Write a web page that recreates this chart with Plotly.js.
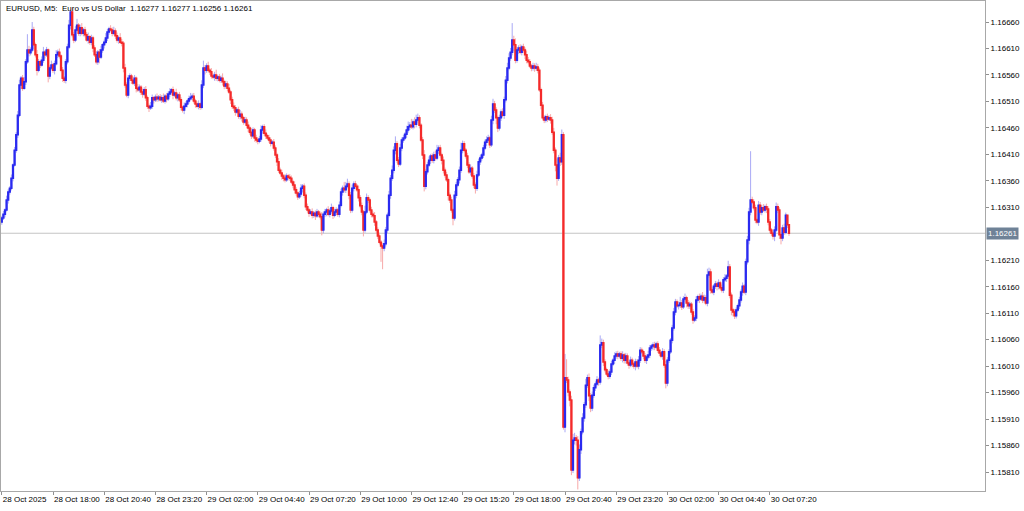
<!DOCTYPE html>
<html>
<head>
<meta charset="utf-8">
<script src="https://cdn.plot.ly/plotly-3.0.1.min.js"></script>
<style>html,body{margin:0;padding:0;background:#fff;}#chart{width:1024px;height:511px;}</style>
</head>
<body>
<div id="chart"></div>
<script>
// EURUSD M5, prices in 1e-5 units above 1.00000 (16290 -> 1.16290)
const firstOpen = 16282;
const closes = [16290,16297,16305,16324,16339,16346,16365,16390,16418,16447,
16484,16541,16554,16535,16547,16585,16607,16602,16607,16645,
16617,16598,16569,16585,16579,16588,16603,16598,16607,16558,
16573,16579,16569,16581,16598,16603,16596,16569,16554,16550,
16585,16613,16654,16679,16636,16626,16645,16654,16639,16649,
16639,16645,16636,16626,16632,16622,16630,16611,16598,16585,
16603,16594,16607,16617,16622,16630,16641,16647,16645,16639,
16643,16634,16626,16630,16622,16620,16573,16541,16522,16554,
16558,16550,16545,16554,16535,16532,16537,16528,16524,16532,
16517,16501,16498,16501,16517,16513,16518,16515,16518,16513,
16517,16511,16520,16515,16524,16528,16532,16522,16526,16517,
16522,16513,16499,16494,16501,16505,16511,16515,16518,16520,
16511,16505,16501,16505,16499,16541,16573,16569,16577,16569,
16566,16558,16556,16560,16554,16556,16550,16554,16547,16539,
16543,16535,16528,16513,16501,16498,16490,16494,16482,16486,
16479,16471,16475,16465,16460,16452,16445,16456,16441,16437,
16435,16439,16456,16462,16450,16445,16441,16437,16431,16433,
16422,16409,16396,16380,16375,16369,16365,16362,16369,16367,
16365,16358,16352,16343,16337,16330,16335,16346,16350,16333,
16311,16305,16299,16301,16295,16299,16294,16301,16297,16292,
16267,16297,16301,16305,16297,16303,16309,16295,16301,16305,
16297,16314,16339,16346,16343,16350,16354,16333,16305,16346,
16354,16350,16343,16328,16313,16301,16267,16301,16328,16324,
16305,16297,16294,16282,16267,16256,16244,16237,16233,16241,
16267,16295,16333,16365,16380,16418,16430,16399,16392,16422,
16437,16441,16448,16456,16462,16465,16462,16471,16467,16475,
16479,16465,16437,16409,16350,16377,16390,16399,16407,16399,
16409,16403,16418,16422,16409,16399,16380,16371,16362,16333,
16324,16305,16290,16333,16352,16362,16380,16418,16430,16418,
16407,16390,16377,16384,16369,16352,16346,16371,16396,16403,
16409,16422,16433,16437,16441,16428,16475,16505,16494,16479,
16460,16479,16490,16484,16513,16550,16573,16592,16603,16626,
16617,16588,16607,16611,16603,16613,16607,16598,16588,16585,
16577,16573,16577,16573,16575,16569,16532,16503,16479,16475,
16481,16477,16479,16475,16452,16418,16390,16365,16403,16396,
16447,15895,15988,15984,15961,15946,15814,15870,15874,15870,
15799,15852,15886,15912,15937,15974,15988,15954,15931,15955,
15969,15976,15984,15980,16050,16054,16018,16003,15995,15991,
15999,16014,16021,16029,16033,16029,16033,16025,16031,16021,
16029,16016,16012,16021,16014,16010,16018,16010,16021,16040,
16037,16029,16021,16027,16031,16044,16048,16050,16046,16052,
16040,16035,16029,16037,16012,15978,16021,16037,16059,16082,
16112,16131,16124,16125,16129,16122,16137,16139,16129,16124,
16127,16112,16097,16101,16135,16141,16137,16142,16135,16139,
16129,16182,16188,16154,16150,16161,16165,16161,16167,16158,
16154,16173,16176,16180,16197,16144,16116,16112,16105,16116,
16124,16135,16150,16161,16150,16207,16248,16301,16324,16320,
16309,16286,16282,16314,16301,16309,16305,16311,16307,16282,
16267,16261,16256,16267,16311,16305,16258,16252,16271,16263,
16295,16277,16261];
// upper wick length above max(open,close), in 1e-5
const upperWick = [4,6,3,8,5,4,7,3,6,5,
8,10,4,6,9,5,30,8,5,15,
6,4,9,5,3,7,10,4,6,3,
5,8,4,6,9,5,7,3,6,4,
5,6,10,4,8,5,7,12,4,6,
9,4,6,5,8,3,6,4,5,7,
4,6,8,3,5,9,6,4,7,5,
8,5,6,4,9,6,4,8,5,6,
5,4,7,6,3,8,5,4,6,5,
7,4,5,8,6,3,5,7,4,6,
5,8,4,6,5,7,3,6,4,8,
4,6,5,3,7,5,4,6,8,5,
6,4,5,7,3,9,14,6,5,8,
4,7,5,6,10,4,6,5,9,4,
6,5,8,4,6,7,5,4,6,8,
5,4,6,5,7,4,8,5,4,6,
5,6,9,4,5,7,4,6,5,4,
6,5,4,7,5,6,4,8,5,4,
6,5,4,7,5,3,6,8,4,5,
5,6,4,5,7,4,5,6,4,5,
9,5,6,4,7,5,8,4,6,5,
4,7,6,5,12,8,10,5,6,7,
5,6,4,8,5,6,4,12,8,5,
4,6,5,7,4,5,6,4,5,8,
6,5,8,6,9,7,14,5,6,8,
5,6,4,8,10,6,12,5,9,10,
8,5,4,6,9,5,6,7,4,5,
6,8,10,5,6,4,7,5,6,4,
5,6,4,8,6,5,7,14,6,5,
4,6,5,7,4,6,5,8,6,5,
4,6,5,7,6,4,8,10,6,5,
4,6,5,7,6,8,10,9,8,32,
8,12,6,5,7,4,6,5,8,6,
5,4,6,5,8,6,5,4,6,5,
4,6,5,7,6,8,5,12,6,10,
10,5,45,35,6,5,8,12,10,6,
8,10,6,9,5,12,6,8,5,7,
6,5,7,4,18,8,6,5,4,7,
5,6,4,7,5,6,4,5,7,4,
6,5,4,7,5,4,6,5,8,6,
5,4,6,5,8,6,4,5,6,4,
5,6,4,7,5,8,6,5,4,6,
8,6,5,7,12,6,5,8,4,6,
5,4,6,5,7,4,6,5,8,6,
5,12,8,6,5,4,6,5,7,4,
6,5,8,4,12,6,5,4,6,5,
4,6,5,7,4,6,8,8,92,6,
5,6,4,8,6,5,7,4,6,5,
6,4,5,7,8,6,5,4,6,8,
5,0,0];
// lower wick length below min(open,close), in 1e-5
const lowerWick = [5,4,6,3,7,5,4,6,3,5,
6,4,8,5,3,6,4,7,5,4,
8,5,10,4,6,3,5,7,4,12,
6,4,5,8,3,6,5,4,7,5,
6,5,4,8,5,6,4,3,5,6,
4,6,5,3,7,5,6,8,4,5,
6,12,4,5,7,4,6,5,3,6,
4,6,5,7,3,6,8,5,4,6,
5,7,4,6,8,4,5,6,7,4,
6,5,8,4,5,7,4,6,5,3,
6,4,5,7,4,6,5,8,4,5,
7,4,6,5,8,4,6,5,3,6,
5,7,4,6,5,4,6,8,5,4,
6,5,4,7,5,6,4,5,7,6,
5,6,4,8,5,6,7,4,5,6,
7,5,4,6,8,5,6,4,7,5,
6,4,5,7,5,6,4,5,6,4,
5,6,8,5,4,7,6,5,4,6,
5,4,6,7,5,6,4,5,8,6,
6,5,7,4,6,5,8,4,6,5,
10,6,5,8,4,6,5,7,4,6,
5,6,4,7,5,6,4,8,6,5,
6,5,4,7,5,6,12,5,4,6,
5,6,4,7,5,6,4,30,40,6,
5,6,4,7,5,6,8,5,6,4,
6,5,4,7,5,6,4,5,8,6,
5,6,4,8,10,6,5,4,7,5,
6,5,4,7,5,8,6,5,4,10,
6,5,14,5,6,4,7,5,6,4,
5,6,4,7,5,6,10,5,4,6,
5,6,4,7,5,6,4,8,6,12,
8,5,6,4,7,5,6,4,5,6,
12,6,5,7,4,6,5,8,6,5,
4,6,5,7,5,6,4,8,5,6,
5,6,4,7,5,6,12,14,5,8,
6,5,10,6,8,12,10,6,8,10,
22,6,8,5,7,6,5,10,8,6,
5,6,4,7,5,6,8,5,4,6,
5,6,4,7,5,6,4,5,8,6,
6,5,7,4,6,5,8,4,6,5,
4,6,5,7,4,6,5,8,6,4,
5,6,4,7,5,10,6,5,4,6,
5,6,4,7,5,6,4,5,8,6,
6,5,7,4,6,5,8,4,6,5,
4,6,5,7,4,6,5,8,6,4,
5,6,4,7,5,6,10,8,6,5,
4,6,5,7,4,6,5,8,6,4,
5,6,4,7,5,6,4,5,8,6,
6,5,7,10,4,6,8,12,6,5,
4,6,5];
const startTime = '2025-10-28T15:20:00Z';
const barMinutes = 5;
const tickTimes = ['2025-10-28 15:20','2025-10-28 18:00','2025-10-28 20:40','2025-10-28 23:20','2025-10-29 02:00','2025-10-29 04:40','2025-10-29 07:20','2025-10-29 10:00','2025-10-29 12:40','2025-10-29 15:20','2025-10-29 18:00','2025-10-29 20:40','2025-10-29 23:20','2025-10-30 02:00','2025-10-30 04:40','2025-10-30 07:20'];
const tickLabels = ['28 Oct 2025','28 Oct 18:00','28 Oct 20:40','28 Oct 23:20','29 Oct 02:00','29 Oct 04:40','29 Oct 07:20','29 Oct 10:00','29 Oct 12:40','29 Oct 15:20','29 Oct 18:00','29 Oct 20:40','29 Oct 23:20','30 Oct 02:00','30 Oct 04:40','30 Oct 07:20'];
const priceTicks = [1.15810,1.15860,1.15910,1.15960,1.16010,1.16060,1.16110,1.16160,1.16210,1.16310,1.16360,1.16410,1.16460,1.16510,1.16560,1.16610,1.16660];
const symbolText = 'EURUSD, M5:\u00a0\u00a0Euro vs US Dollar\u00a0\u00a01.16277 1.16277 1.16256 1.16261';

function fmt(ms){const s=new Date(ms).toISOString();return s.slice(0,10)+' '+s.slice(11,19);}
const t0 = Date.parse(startTime);
const n = closes.length;
const x=[], o=[], h=[], l=[], c=[], bh=[], bl=[];
for(let i=0;i<n;i++){
  const op = i===0 ? firstOpen : closes[i-1];
  const cl = closes[i];
  x.push(fmt(t0 + i*barMinutes*60000));
  o.push(1+op/1e5); c.push(1+cl/1e5);
  h.push(1+(Math.max(op,cl)+upperWick[i])/1e5);
  l.push(1+(Math.min(op,cl)-lowerWick[i])/1e5);
  bh.push(1+Math.max(op,cl)/1e5); bl.push(1+Math.min(op,cl)/1e5);
}
const last = c[n-1];
const wicks = {type:'candlestick', x:x, open:o, high:h, low:l, close:c, whiskerwidth:0,
  increasing:{line:{color:'#a9a9f5',width:1},fillcolor:'#a9a9f5'},
  decreasing:{line:{color:'#f7a9a9',width:1},fillcolor:'#f7a9a9'}, hoverinfo:'skip', showlegend:false};
const bodies = {type:'candlestick', x:x, open:o, high:bh, low:bl, close:c, whiskerwidth:0,
  increasing:{line:{color:'#2a2af0',width:1.5},fillcolor:'#2a2af0'},
  decreasing:{line:{color:'#f42a2a',width:1.5},fillcolor:'#f42a2a'}, hoverinfo:'skip', showlegend:false};
const font = {family:'Liberation Sans, Arial, sans-serif', size:8, color:'#000'};
const layout = {
  width:1024, height:511, margin:{l:1,r:39,t:1,b:20,pad:0},
  paper_bgcolor:'#fff', plot_bgcolor:'#fff', showlegend:false,
  xaxis:{type:'date', range:[fmt(t0-150000), fmt(t0+3072.5*60000)], tickmode:'array', tickvals:tickTimes, ticktext:tickLabels,
    tickangle:0, ticks:'outside', ticklen:3, tickcolor:'#909090', showline:true, mirror:true, linecolor:'#a8a8a8', linewidth:1,
    showgrid:false, zeroline:false, rangeslider:{visible:false}, tickfont:font, ticklabelposition:'outside right', fixedrange:true},
  yaxis:{side:'right', range:[1.157741,1.166997], tickmode:'array', tickvals:priceTicks, ticktext:priceTicks.map(v=>v.toFixed(5)),
    ticks:'outside', ticklen:3, tickcolor:'#909090', showline:true, mirror:true, linecolor:'#a8a8a8', linewidth:1,
    showgrid:false, zeroline:false, tickfont:font, fixedrange:true},
  shapes:[{type:'line', xref:'paper', x0:0, x1:1, yref:'y', y0:last, y1:last, line:{color:'#c4c4c4', width:1}, layer:'below'}],
  annotations:[
    {xref:'paper', yref:'paper', x:0, y:1, xanchor:'left', yanchor:'top', xshift:3, yshift:-1, text:symbolText, showarrow:false, font:font},
    {xref:'paper', yref:'y', x:1, y:last, xanchor:'left', yanchor:'middle', xshift:1, text:last.toFixed(5), showarrow:false,
     bgcolor:'#6f8297', borderpad:1, font:{family:font.family, size:8, color:'#ffffff'}}
  ]
};
Plotly.newPlot('chart',[wicks,bodies],layout,{staticPlot:true,displayModeBar:false});
</script>
</body>
</html>
